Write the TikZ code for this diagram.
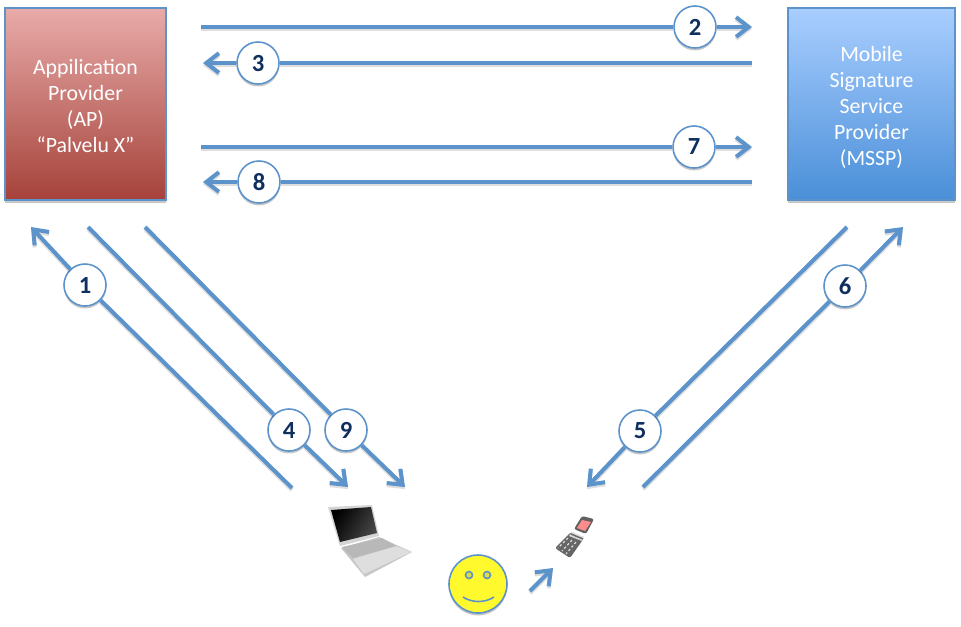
\documentclass[tikz,border=0pt]{standalone}
\usepackage{fontspec}
\setmainfont{Carlito}
\usetikzlibrary{arrows.meta,shadows}
\definecolor{flowblue}{HTML}{5C93CB}
\definecolor{numnavy}{HTML}{0F2F5F}
\definecolor{aptop}{HTML}{E8ABA9}
\definecolor{apbottom}{HTML}{A5423A}
\definecolor{msspTop}{HTML}{A9CEFF}
\definecolor{msspBottom}{HTML}{4A8FD8}
\definecolor{faceyellow}{HTML}{FFF92E}
\begin{document}
\begin{tikzpicture}[x=0.01cm,y=-0.01cm,
  every node/.style={font=\fontsize{6.2}{7.4}\selectfont},
  softshadow/.style={drop shadow={shadow xshift=0pt,shadow yshift=-0.7pt,opacity=0.22,fill=black}},
  provider/.style={draw=flowblue,line width=0.4pt,minimum height=1.92cm,inner sep=0pt,
    align=center,text=white,softshadow},
  numcirc/.style={circle,draw=flowblue,line width=0.45pt,fill=white,minimum size=0.42cm,inner sep=0pt,
    text=numnavy,font=\fontsize{7}{8}\selectfont\bfseries,softshadow},
  flow/.style={draw=flowblue,line width=1.15pt,
    preaction={draw=black,opacity=0.13,line width=1.15pt,transform canvas={yshift=-0.6pt}}},
  flowtip/.style={flow,-{Straight Barb[length=3.6pt,width=5.6pt,line width=1.15pt]}}]
\useasboundingbox (0,0) rectangle (961,626);
% providers
\node[provider,minimum width=1.61cm,top color=aptop,bottom color=apbottom] (ap) at (85.5,104) {\rule{0pt}{5.6pt}Appilication\\Provider\\(AP)\\“Palvelu X”};
\node[provider,minimum width=1.67cm,top color=msspTop,bottom color=msspBottom] (mssp) at (871.5,104) {\rule{0pt}{6.2pt}Mobile\\Signature\\Service\\Provider\\(MSSP)};
% free ends of the connectors
\coordinate (s1) at (292,488); \coordinate (e1) at (31,227);
\coordinate (s2) at (201,27);  \coordinate (e2) at (752,27);
\coordinate (s3) at (752,63);  \coordinate (e3) at (203,63);
\coordinate (s4) at (88,227);  \coordinate (e4) at (348,487);
\coordinate (s5) at (847,227); \coordinate (e5) at (587,487);
\coordinate (s6) at (643,487); \coordinate (e6) at (903,227);
\coordinate (s7) at (201,147); \coordinate (e7) at (752,147);
\coordinate (s8) at (752,182); \coordinate (e8) at (203,182);
\coordinate (s9) at (145,227); \coordinate (e9) at (405,487);
\coordinate (s0) at (530,591); \coordinate (e0) at (553,568);
% numbered steps
\node[numcirc] (n1) at (85,285) {1};
\node[numcirc] (n2) at (695,27) {2};
\node[numcirc] (n3) at (258,63) {3};
\node[numcirc] (n4) at (289,430) {4};
\node[numcirc] (n5) at (640,431) {5};
\node[numcirc] (n6) at (845,286) {6};
\node[numcirc] (n7) at (694,147) {7};
\node[numcirc] (n8) at (259,182) {8};
\node[numcirc] (n9) at (346,430) {9};
% connectors
\draw[flow] (s1)--(n1); \draw[flowtip] (n1)--(e1);
\draw[flow] (s2)--(n2); \draw[flowtip] (n2)--(e2);
\draw[flow] (s3)--(n3); \draw[flowtip] (n3)--(e3);
\draw[flow] (s4)--(n4); \draw[flowtip] (n4)--(e4);
\draw[flow] (s5)--(n5); \draw[flowtip] (n5)--(e5);
\draw[flow] (s6)--(n6); \draw[flowtip] (n6)--(e6);
\draw[flow] (s7)--(n7); \draw[flowtip] (n7)--(e7);
\draw[flow] (s8)--(n8); \draw[flowtip] (n8)--(e8);
\draw[flow] (s9)--(n9); \draw[flowtip] (n9)--(e9);
\draw[flowtip] (s0)--(e0);
% laptop
\fill[black!22] (341,548)--(379,537)--(412,552)--(365,577)--cycle;
\fill[black!13] (353,559)--(396,546)--(411,552)--(364,574)--cycle;
\fill[black!28] (342,547)--(382,538)--(396,546)--(353,558)--cycle;
\fill[black!17] (328,507)--(372,505)--(379,536)--(340,546)--cycle;
\shade[left color=black,right color=black!72,shading angle=60] (331,510)--(371,507)--(377,533)--(340,542)--cycle;
% phone
\fill[black!60,rounded corners=0.6pt] (571,532)--(584,538)--(570,558)--(555,548)--cycle;
\draw[black!15,line width=0.35pt,dash pattern=on 0.7pt off 0.6pt] (568,538)--(558,548);
\draw[black!15,line width=0.35pt,dash pattern=on 0.7pt off 0.6pt] (572,540)--(562,551);
\draw[black!15,line width=0.35pt,dash pattern=on 0.7pt off 0.6pt] (576,542)--(566,554);
\fill[black!15] (572,532)--(584,537)--(582,541)--(569,536)--cycle;
\draw[black!60,line width=0.4pt] (571,534)--(583,539);
\fill[black!62,rounded corners=0.6pt] (582,516)--(594,519)--(586,534)--(574,529)--cycle;
\fill[red!45!white] (582,520)--(591,522)--(585,531)--(577,528)--cycle;
% person
\node[circle,draw=flowblue,line width=0.45pt,fill=faceyellow,minimum size=0.58cm,inner sep=0pt,softshadow] (face) at (478,584) {};
\node[circle,draw=flowblue,line width=0.45pt,fill=faceyellow!75!gray,minimum size=0.07cm,inner sep=0pt] (eyeL) at (469,575) {};
\node[circle,draw=flowblue,line width=0.45pt,fill=faceyellow!75!gray,minimum size=0.07cm,inner sep=0pt] (eyeR) at (487,575) {};
\draw[flowblue,line width=0.45pt] (463,597) .. controls (472,603) and (485,603) .. (494,597);
\end{tikzpicture}
\end{document}
